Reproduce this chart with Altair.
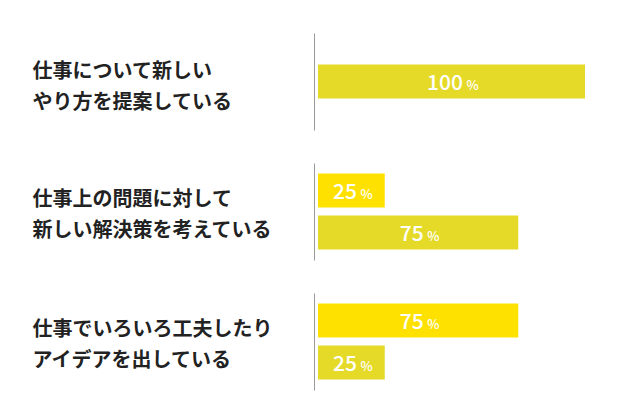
import altair as alt
import pandas as pd

# ---- data ----
group_lines = [
    ["仕事について新しい", "やり方を提案している"],
    ["仕事上の問題に対して", "新しい解決策を考えている"],
    ["仕事でいろいろ工夫したり", "アイデアを出している"],
]
group_series = [["B"], ["A", "B"], ["A", "B"]]
group_values = [[100], [25, 75], [75, 25]]
series_names = ["A", "B"]
series_colors = ["#FFE100", "#E5DA28"]

# ---- layout / style ----
BAR_W = 267
PANEL_H = 97
BAR_H = 34
GAP = 8
LINE_H = 31
PX_PER_UNIT = BAR_W / 100
DIGIT_PX = 11.7
NUM_DX = -6.5
PCT_GAP = 4
title_shift = [5.5, 3.5, 3]
FONT = "Noto Sans CJK JP"

panels = []
for i, (lines, sers, vals) in enumerate(zip(group_lines, group_series, group_values)):
    n = len(vals)
    df = pd.DataFrame({"item": list(range(n)), "series": sers, "value": vals})
    if n == 1:
        p_in, p_out = 0, (PANEL_H / BAR_H - 1) / 2
    else:
        step = BAR_H + GAP
        p_in = GAP / step
        p_out = (PANEL_H / step - n + p_in) / 2

    base = alt.Chart(df).transform_calculate(
        half="datum.value / 2",
        pct_x=f"datum.value / 2 + (length(toString(datum.value)) * {DIGIT_PX / 2} + {NUM_DX} + {PCT_GAP}) / {PX_PER_UNIT}",
    ).encode(
        y=alt.Y(
            "item:O",
            scale=alt.Scale(paddingInner=p_in, paddingOuter=p_out),
            axis=alt.Axis(
                title=lines,
                titleAngle=0,
                titleAlign="left",
                titleBaseline="middle",
                titleX=-282,
                titleY=PANEL_H / 2 - LINE_H / 2 + title_shift[i],
                titleLineHeight=LINE_H,
                titleFont=FONT,
                titleFontSize=20,
                titleFontWeight="bold",
                titleColor="#222222",
                labels=False,
                ticks=False,
                domainColor="#999999",
                domainWidth=1,
                offset=4,
                grid=False,
            ),
        )
    )

    bars = base.mark_bar().encode(
        x=alt.X("value:Q", scale=alt.Scale(domain=[0, 100]), axis=None),
        color=alt.Color(
            "series:N",
            scale=alt.Scale(domain=series_names, range=series_colors),
            legend=None,
        ),
    )
    nums = base.mark_text(
        font=FONT, fontSize=21, fontWeight=500, color="white",
        align="center", baseline="alphabetic", dx=NUM_DX, dy=8,
    ).encode(
        x=alt.X("half:Q", axis=None),
        text=alt.Text("value:Q"),
    )
    pcts = base.mark_text(
        font=FONT, fontSize=13, fontWeight=500, color="white",
        align="left", baseline="alphabetic", dy=8,
    ).encode(
        x=alt.X("pct_x:Q", axis=None),
        text=alt.value("%"),
    )
    panels.append(
        alt.layer(bars, nums, pcts).properties(width=BAR_W, height=PANEL_H)
    )

chart = alt.vconcat(*panels, spacing=33).properties(
    padding={"left": 24, "top": 25, "right": 5, "bottom": 5}
).configure_view(stroke=None)

chart.save("out.html", embed_options={"renderer": "svg", "actions": False})
